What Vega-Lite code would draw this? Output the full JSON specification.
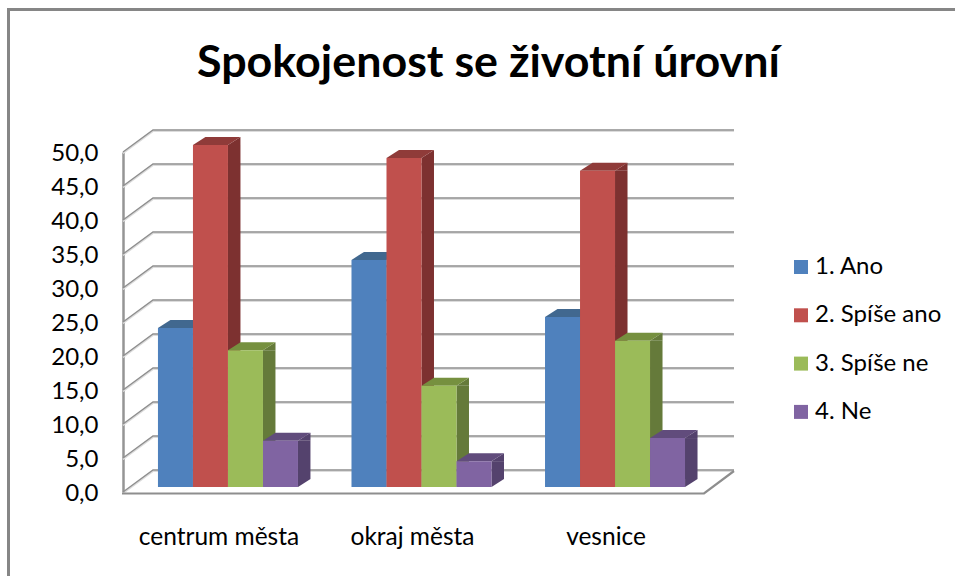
{
"$schema":"https://vega.github.io/schema/vega-lite/v6.json",
"width":955,"height":576,"padding":0,"autosize":{"type":"none"},"background":"white",
"config":{"view":{"stroke":null},"font":"Lato"},
"title":{"text":"Spokojenost se životní úrovní","anchor":"start","frame":"group","dx":197,"dy":45,"offset":-77,"baseline":"alphabetic","font":"Lato","fontSize":44.8,"fontWeight":"bold","color":"#000000"},
"data":{"values":[
{"misto":"centrum města","odpoved":"1. Ano","procent":23.4},
{"misto":"centrum města","odpoved":"2. Spíše ano","procent":50.3},
{"misto":"centrum města","odpoved":"3. Spíše ne","procent":20.1},
{"misto":"centrum města","odpoved":"4. Ne","procent":6.8},
{"misto":"okraj města","odpoved":"1. Ano","procent":33.4},
{"misto":"okraj města","odpoved":"2. Spíše ano","procent":48.4},
{"misto":"okraj města","odpoved":"3. Spíše ne","procent":14.9},
{"misto":"okraj města","odpoved":"4. Ne","procent":3.8},
{"misto":"vesnice","odpoved":"1. Ano","procent":25.0},
{"misto":"vesnice","odpoved":"2. Spíše ano","procent":46.5},
{"misto":"vesnice","odpoved":"3. Spíše ne","procent":21.5},
{"misto":"vesnice","odpoved":"4. Ne","procent":7.2}
]},
"layer":[
{"data":{"values":[{"f":"left"}]},"mark":{"type":"rule","color":"#868686","strokeWidth":3},
 "encoding":{"x":{"value":8.5},"y":{"value":8},"y2":{"value":576}}},
{"data":{"values":[{"f":"top"}]},"mark":{"type":"rule","color":"#868686","strokeWidth":3},
 "encoding":{"x":{"value":7},"x2":{"value":955},"y":{"value":9.5}}},
{"data":{"values":[{"v":0},{"v":5},{"v":10},{"v":15},{"v":20},{"v":25},{"v":30},{"v":35},{"v":40},{"v":45},{"v":50}]},
 "mark":{"type":"point","shape":"M0,0 L30,-22 L611,-22","filled":false,"stroke":"#dcdcdc","strokeWidth":1.5,"size":4,"opacity":1,"yOffset":1.3},
 "encoding":{"x":{"value":123},"y":{"field":"v","type":"quantitative","scale":{"domain":[0,50],"range":[492,152],"nice":false},"axis":{"title":null,"orient":"left","offset":-123,"values":[0,5,10,15,20,25,30,35,40,45,50],"labelExpr":"replace(format(datum.value,'.1f'),'.',',')","labelFont":"Lato","labelFontSize":24,"labelColor":"#000000","labelPadding":25,"labelOffset":1.5,"ticks":false,"grid":false,"domain":true,"domainColor":"#959595","domainWidth":2.5}}}},
{"data":{"values":[{"v":0},{"v":5},{"v":10},{"v":15},{"v":20},{"v":25},{"v":30},{"v":35},{"v":40},{"v":45},{"v":50}]},
 "mark":{"type":"point","shape":"M0,0 L30,-22 L611,-22","filled":false,"stroke":"#8e8e8e","strokeWidth":1.4,"size":4,"opacity":1},
 "encoding":{"x":{"value":123},"y":{"field":"v","type":"quantitative"}}},
{"data":{"values":[{"v":0}]},
 "mark":{"type":"point","shape":"M-1,1.5 L581,1.5 L611,-21","filled":false,"stroke":"#8e8e8e","strokeWidth":2.2,"size":4,"opacity":1},
 "encoding":{"x":{"value":123},"y":{"field":"v","type":"quantitative"}}},
{"mark":{"type":"rule","strokeWidth":12.5,"yOffset":-5,"y2Offset":-13},
 "encoding":{
  "x":{"field":"misto","type":"nominal","scale":{"range":[131.25,711.75],"paddingInner":0.2765,"paddingOuter":0.138},"axis":{"title":null,"orient":"bottom","offset":-84,"labelAngle":0,"labelFont":"Lato","labelFontSize":24.5,"labelColor":"#000000","labelPadding":33,"labelOffset":-9,"ticks":false,"domain":false,"grid":false}},
  "xOffset":{"field":"odpoved","type":"nominal","scale":{"type":"band","range":[23.75,163.75],"paddingInner":0,"paddingOuter":0}},
  "y":{"field":"procent","type":"quantitative"},
  "y2":{"datum":0},
  "color":{"field":"odpoved","type":"nominal","legend":null,"scale":{"domain":["1. Ano","2. Spíše ano","3. Spíše ne","4. Ne"],"range":["#3a6190","#7d3130","#657a3a","#54426d"]}}}},
{"mark":{"type":"point","shape":"M17.5,0 L30,-8 L30,0 Z","filled":true,"size":4,"opacity":1,"yOffset":-5},
 "encoding":{"x":{"field":"misto","type":"nominal"},"xOffset":{"field":"odpoved","type":"nominal","scale":{"type":"band","paddingInner":0,"paddingOuter":0}},"y":{"field":"procent","type":"quantitative"},
  "color":{"field":"odpoved","type":"nominal","legend":null,"scale":{"domain":["1. Ano","2. Spíše ano","3. Spíše ne","4. Ne"],"range":["#3a6190","#7d3130","#657a3a","#54426d"]}}}},
{"mark":{"type":"point","shape":"M17.5,0 L17.5,-8 L30,-8 Z","filled":true,"size":4,"opacity":1,"yOffset":-5},
 "encoding":{"x":{"field":"misto","type":"nominal"},"xOffset":{"field":"odpoved","type":"nominal","scale":{"type":"band","paddingInner":0,"paddingOuter":0}},"y":{"datum":0},
  "color":{"field":"odpoved","type":"nominal","legend":null,"scale":{"domain":["1. Ano","2. Spíše ano","3. Spíše ne","4. Ne"],"range":["#3a6190","#7d3130","#657a3a","#54426d"]}}}},
{"mark":{"type":"point","shape":"M-17.5,0 L-5,-8 L30,-8 L17.5,0 Z","filled":true,"size":4,"opacity":1,"yOffset":-5},
 "encoding":{"x":{"field":"misto","type":"nominal"},"xOffset":{"field":"odpoved","type":"nominal","scale":{"type":"band","paddingInner":0,"paddingOuter":0}},"y":{"field":"procent","type":"quantitative"},
  "color":{"field":"odpoved","type":"nominal","legend":null,"scale":{"domain":["1. Ano","2. Spíše ano","3. Spíše ne","4. Ne"],"range":["#41688f","#8f3b39","#76903f","#614c7c"]}}}},
{"mark":{"type":"bar","yOffset":-5,"y2Offset":-5},
 "encoding":{"x":{"field":"misto","type":"nominal"},"xOffset":{"field":"odpoved","type":"nominal","scale":{"type":"band","paddingInner":0,"paddingOuter":0}},"y":{"field":"procent","type":"quantitative"},"y2":{"datum":0},
  "color":{"field":"odpoved","type":"nominal","scale":{"domain":["1. Ano","2. Spíše ano","3. Spíše ne","4. Ne"],"range":["#4f81bd","#c0504d","#9bbb59","#8064a2"]},
   "legend":{"title":null,"orient":"none","legendX":789,"legendY":255,"symbolType":"square","symbolSize":196,"symbolStrokeWidth":0,"labelFont":"Lato","labelFontSize":24,"labelColor":"#000000","rowPadding":24.3,"labelOffset":2}}}}
],
"resolve":{"scale":{"color":"independent","xOffset":"independent"}}
}
